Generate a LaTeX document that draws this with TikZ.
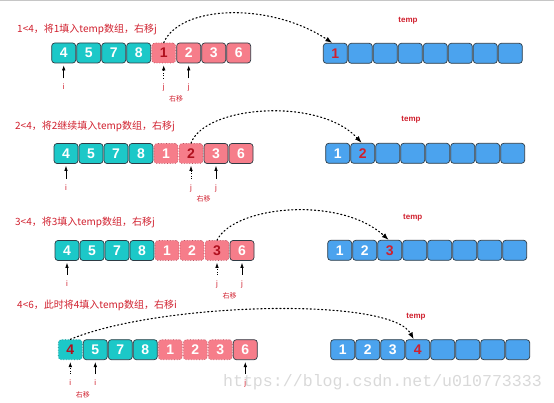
\documentclass[tikz,border=0pt]{standalone}
\usepackage{fontspec}
\setmainfont{Liberation Sans}
\newfontfamily\cjk{Noto Sans CJK SC}
\newfontfamily\mono{Liberation Mono}
\usepackage{xcolor}
\usepackage{tikz}
\usetikzlibrary{calc}
\usetikzlibrary{arrows.meta, positioning}

\definecolor{verdeacqua}{HTML}{1CC8C8}
\definecolor{verdescuro}{HTML}{158A8A}
\definecolor{rosachiaro}{HTML}{F67D8A}
\definecolor{rosascuro}{HTML}{B85462}
\definecolor{azzurro}{HTML}{4BA3EE}
\definecolor{bordo}{HTML}{2E3B44}
\definecolor{rosso}{HTML}{D0202E}
\definecolor{rossoscuro}{HTML}{B0101E}

\begin{document}
\begin{tikzpicture}[
    x=1pt, y=-1pt,
    >=Latex,
    cella/.style={rounded corners=3pt, minimum width=24pt, minimum height=20pt, inner sep=0pt,
        line width=0.7pt, text=white, font=\bfseries\fontsize{14}{14}\selectfont},
    verde/.style={cella, fill=verdeacqua, draw=bordo},
    verdec/.style={cella, fill=verdeacqua, draw=verdescuro, dotted, text=rossoscuro},
    rosa/.style={cella, fill=rosachiaro, draw=bordo},
    rosaf/.style={cella, fill=rosachiaro, draw=rosascuro, dotted},
    rosac/.style={rosaf, text=rossoscuro},
    blu/.style={cella, fill=azzurro, draw=bordo},
    bluc/.style={blu, text=rosso},
    didascalia/.style={right, inner sep=0pt, text=rosso, font=\cjk\fontsize{10}{12}\selectfont},
    nometemp/.style={text=rosso, font=\bfseries\fontsize{8}{8}\selectfont},
    indice/.style={text=rosso, inner sep=1pt, text height=6pt, text depth=2pt, font=\fontsize{8}{8}\selectfont},
    sposta/.style={text=rosso, font=\cjk\fontsize{7}{7}\selectfont},
    puntatore/.style={-{Latex[length=5pt,width=3.5pt]}, line width=0.6pt, shorten <=4pt, shorten >=2pt},
    puntatored/.style={puntatore, dotted},
    salto/.style={-{Latex[length=7pt,width=5pt]}, line width=1.1pt, dash pattern=on 1.2pt off 2.6pt, line cap=round}
]
    \useasboundingbox (0,0) rectangle (554,403);
    \draw[gray!45, line width=1.2pt] (0,0.6) -- (554,0.6);

    % Filigrana
    \node[text=gray!30, font=\mono\fontsize{16.6}{17}\selectfont] (firma) at (382.5,382) {https://blog.csdn.net/u010773333};

    % -------------------------------------------------------------------
    % Passo 1
    \node[didascalia] (d1) at (17,29.3) {1<4，将1填入temp数组，右移j};
    \foreach \v/\s [count=\k from 0] in {4/verde,5/verde,7/verde,8/verde,1/rosac,2/rosa,3/rosa,6/rosa}
        \node[\s] (a1c\k) at (63.7+25*\k,53) {\v};
    \node[bluc] (t1c0) at (335.3,53.3) {1};
    \foreach \k in {1,...,7}
        \node[blu] (t1c\k) at (335.3+25*\k,53.3) {};
    \node[nometemp] (n1) at (408,20.7) {temp};

    \node[indice, below=19pt of a1c0] (i1) {i};
    \node[indice, below=19pt of a1c4] (j1a) {j};
    \node[indice, below=19pt of a1c5] (j1b) {j};
    \draw[puntatore] (i1) -- (a1c0);
    \draw[puntatored] (j1a) -- (a1c4);
    \draw[puntatore] (j1b) -- (a1c5);
    \node[sposta] (m1) at ($(j1a)!.5!(j1b)+(0,11)$) {右移};

    \draw[salto] (a1c4.north) .. controls +(17,-38) and +(-62,-41) .. ([xshift=-3pt]t1c0.north);

    % -------------------------------------------------------------------
    % Passo 2
    \node[didascalia] (d2) at (15,126.7) {2<4，将2继续填入temp数组，右移j};
    \foreach \v/\s [count=\k from 0] in {4/verde,5/verde,7/verde,8/verde,1/rosaf,2/rosac,3/rosa,6/rosa}
        \node[\s] (a2c\k) at (66+25*\k,153.5) {\v};
    \node[blu] (t2c0) at (337.7,153.3) {1};
    \node[bluc] (t2c1) at (362.7,153.3) {2};
    \foreach \k in {2,...,7}
        \node[blu] (t2c\k) at (337.7+25*\k,153.3) {};
    \node[nometemp] (n2) at (411,120) {temp};

    \node[indice, below=19pt of a2c0] (i2) {i};
    \node[indice, below=19pt of a2c5] (j2a) {j};
    \node[indice, below=19pt of a2c6] (j2b) {j};
    \draw[puntatore] (i2) -- (a2c0);
    \draw[puntatored] (j2a) -- (a2c5);
    \draw[puntatore] (j2b) -- (a2c6);
    \node[sposta] (m2) at ($(j2a)!.5!(j2b)+(0,11)$) {右移};

    \draw[salto] (a2c5.north) .. controls +(14,-38) and +(-42,-46) .. ([xshift=-1pt]t2c1.north);

    % -------------------------------------------------------------------
    % Passo 3
    \node[didascalia] (d3) at (15,223) {3<4，将3填入temp数组，右移j};
    \foreach \v/\s [count=\k from 0] in {4/verde,5/verde,7/verde,8/verde,1/rosaf,2/rosaf,3/rosac,6/rosa}
        \node[\s] (a3c\k) at (67+25*\k,250.5) {\v};
    \node[blu] (t3c0) at (339.7,250.3) {1};
    \node[blu] (t3c1) at (364.7,250.3) {2};
    \node[bluc] (t3c2) at (389.7,250.3) {3};
    \foreach \k in {3,...,7}
        \node[blu] (t3c\k) at (339.7+25*\k,250.3) {};
    \node[nometemp] (n3) at (412.7,217.3) {temp};

    \node[indice, below=18pt of a3c0] (i3) {i};
    \node[indice, below=18pt of a3c6] (j3a) {j};
    \node[indice, below=18pt of a3c7] (j3b) {j};
    \draw[puntatore] (i3) -- (a3c0);
    \draw[puntatored] (j3a) -- (a3c6);
    \draw[puntatore] (j3b) -- (a3c7);
    \node[sposta] (m3) at ($(j3a)!.5!(j3b)+(0,12)$) {右移};

    \draw[salto] (a3c6.north) .. controls +(18,-35) and +(-48,-44) .. ([xshift=-1pt]t3c2.north);

    % -------------------------------------------------------------------
    % Passo 4
    \node[didascalia] (d4) at (17,305) {4<6，此时将4填入temp数组，右移i};
    \foreach \v/\s [count=\k from 0] in {4/verdec,5/verde,7/verde,8/verde,1/rosaf,2/rosaf,3/rosaf,6/rosa}
        \node[\s] (a4c\k) at (70.3+25*\k,349.7) {\v};
    \node[blu] (t4c0) at (342.7,349.7) {1};
    \node[blu] (t4c1) at (367.7,349.7) {2};
    \node[blu] (t4c2) at (392.7,349.7) {3};
    \node[bluc] (t4c3) at (417.7,349.7) {4};
    \foreach \k in {4,...,7}
        \node[blu] (t4c\k) at (342.7+25*\k,349.7) {};
    \node[nometemp] (n4) at (416,316.7) {temp};

    \node[indice, below=18pt of a4c0] (i4a) {i};
    \node[indice, below=18pt of a4c1] (i4b) {i};
    \node[indice, below=18pt of a4c7] (j4) {j};
    \draw[puntatored] (i4a) -- (a4c0);
    \draw[puntatore] (i4b) -- (a4c1);
    \draw[puntatore] (j4) -- (a4c7);
    \node[sposta] (m4) at ($(i4a)!.5!(i4b)+(0,12)$) {右移};

    \draw[salto] (a4c0.north) .. controls +(89,-37) and +(-23,-43) .. ([xshift=-4pt]t4c3.north);

\end{tikzpicture}
\end{document}
